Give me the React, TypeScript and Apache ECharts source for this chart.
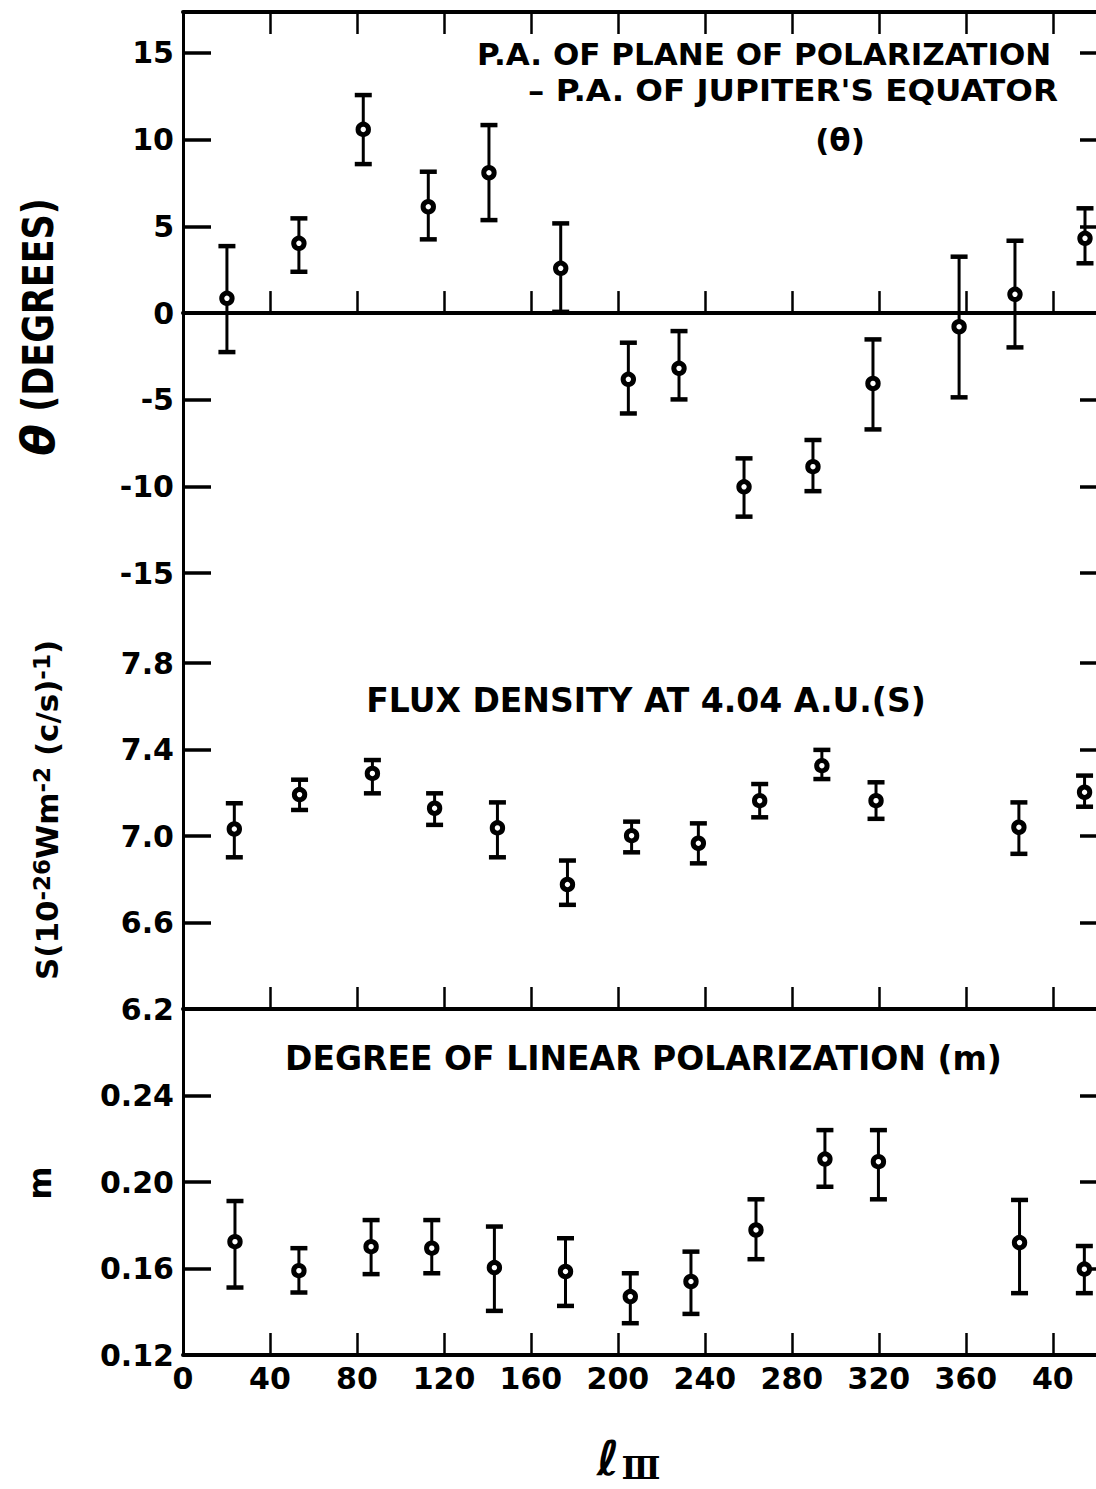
import React, { useEffect, useRef } from 'react';
import * as echarts from 'echarts';

// ---------- axis ticks / labels ----------
const X_TICKS = [40, 80, 120, 160, 200, 240, 280, 320, 360, 400];
const X_LABELS = [0, 40, 80, 120, 160, 200, 240, 280, 320, 360, 400];
const THETA_TICKS = [-15, -10, -5, 0, 5, 10, 15];
const FLUX_TICKS = [6.6, 7.0, 7.4, 7.8];
const FLUX_LABELS = [6.2, 6.6, 7.0, 7.4, 7.8];
const M_TICKS = [0.16, 0.2, 0.24];
const M_LABELS = [0.12, 0.16, 0.2, 0.24];

// ---------- theta panel (degrees) ----------
const thetaLon = [20.2, 53.3, 82.9, 112.8, 140.7, 173.7, 204.8, 228.1, 258.0, 289.7, 317.3, 356.9, 382.6, 414.8];
const thetaVal = [0.85, 4.02, 10.59, 6.13, 8.09, 2.58, -3.82, -3.19, -10.02, -8.86, -4.06, -0.79, 1.08, 4.31];
const thetaHi = [3.86, 5.46, 12.57, 8.15, 10.84, 5.17, -1.71, -1.04, -8.38, -7.32, -1.52, 3.25, 4.17, 6.04];
const thetaLo = [-2.25, 2.38, 8.59, 4.25, 5.36, 0.07, -5.79, -4.98, -11.74, -10.27, -6.71, -4.86, -1.98, 2.87];

// ---------- flux density panel ----------
const fluxLon = [23.6, 53.6, 87.1, 115.7, 144.6, 176.8, 206.3, 237.0, 265.2, 293.8, 318.7, 384.4, 414.6];
const fluxVal = [7.033, 7.192, 7.29, 7.129, 7.038, 6.776, 7.002, 6.967, 7.164, 7.326, 7.164, 7.041, 7.203];
const fluxHi = [7.152, 7.261, 7.352, 7.198, 7.156, 6.887, 7.067, 7.059, 7.241, 7.399, 7.249, 7.156, 7.28];
const fluxLo = [6.902, 7.121, 7.198, 7.052, 6.902, 6.682, 6.925, 6.874, 7.087, 7.264, 7.08, 6.918, 7.136];

// ---------- degree of linear polarization panel ----------
const mLon = [23.9, 53.3, 86.5, 114.4, 143.2, 175.9, 205.7, 233.6, 263.5, 295.2, 319.8, 384.7, 414.5];
const mVal = [0.1724, 0.159, 0.1701, 0.1694, 0.1604, 0.1586, 0.147, 0.154, 0.1778, 0.2106, 0.2094, 0.172, 0.1597];
const mHi = [0.1912, 0.1694, 0.1824, 0.1824, 0.1794, 0.174, 0.1578, 0.1678, 0.192, 0.224, 0.224, 0.1917, 0.1704];
const mLo = [0.1512, 0.1489, 0.1574, 0.1578, 0.1404, 0.1427, 0.1347, 0.139, 0.1643, 0.1978, 0.192, 0.1486, 0.1486];

const FONT = '"DejaVu Sans", sans-serif';
const INK = '#000';

const build = (lon: number[], v: number[], hi: number[], lo: number[]) =>
  lon.map((x, i) => [x, v[i], hi[i], lo[i]]);

const renderErr = (params: any, api: any) => {
  const x = api.value(0);
  const c = api.coord([x, api.value(1)]);
  const t = api.coord([x, api.value(2)]);
  const b = api.coord([x, api.value(3)]);
  const cw = 8.5;
  return {
    type: 'group',
    children: [
      { type: 'line', shape: { x1: c[0], y1: t[1], x2: c[0], y2: b[1] }, style: { stroke: INK, lineWidth: 3 } },
      { type: 'line', shape: { x1: c[0] - cw, y1: t[1], x2: c[0] + cw, y2: t[1] }, style: { stroke: INK, lineWidth: 4.5 } },
      { type: 'line', shape: { x1: c[0] - cw, y1: b[1], x2: c[0] + cw, y2: b[1] }, style: { stroke: INK, lineWidth: 4.5 } },
      { type: 'circle', shape: { cx: c[0], cy: c[1], r: 5.2 }, style: { fill: '#fff', stroke: INK, lineWidth: 5 } },
    ],
  };
};

const labelStyle = { color: INK, fontFamily: FONT, fontWeight: 'bold' as const, fontSize: 30 };

const xBase = (gridIndex: number, position: string, onZero: boolean, showLabels: boolean) => ({
  type: 'value',
  gridIndex,
  min: 0,
  max: 424,
  position,
  axisLine: { show: true, onZero, lineStyle: { color: INK, width: 4 } },
  axisTick: { show: true, inside: true, length: 22, customValues: X_TICKS, lineStyle: { color: INK, width: 2.5 } },
  axisLabel: showLabels
    ? { show: true, customValues: X_LABELS, margin: 8, ...labelStyle, formatter: (v: number) => (v === 400 ? '40' : String(v)) }
    : { show: false },
  splitLine: { show: false },
});

const yBase = (gridIndex: number, position: string, min: number, max: number, ticks: number[], labels: number[] | null, fmt: (v: number) => string) => ({
  type: 'value',
  gridIndex,
  min,
  max,
  position,
  axisLine: { show: true, onZero: false, lineStyle: { color: INK, width: 3 } },
  axisTick: { show: true, inside: true, length: position === 'left' ? 28 : 25, customValues: ticks, lineStyle: { color: INK, width: 3.5 } },
  axisLabel: labels
    ? { show: true, customValues: labels, margin: 9, ...labelStyle, formatter: fmt }
    : { show: false },
  splitLine: { show: false },
});

const option: any = {
  animation: false,
  backgroundColor: '#fff',
  grid: [
    { left: 183, width: 922, top: 12, height: 608, outerBoundsMode: 'none' },
    { left: 183, width: 922, top: 620, height: 389, outerBoundsMode: 'none' },
    { left: 183, width: 922, top: 1009, height: 346, outerBoundsMode: 'none' },
  ],
  xAxis: [
    xBase(0, 'top', false, false),
    xBase(0, 'bottom', true, false),
    xBase(1, 'bottom', false, false),
    xBase(2, 'bottom', false, true),
  ],
  yAxis: [
    yBase(0, 'left', -17.7, 17.36, THETA_TICKS, THETA_TICKS, (v) => String(v)),
    yBase(0, 'right', -17.7, 17.36, THETA_TICKS, null, (v) => String(v)),
    yBase(1, 'left', 6.2, 8.0, FLUX_TICKS, FLUX_LABELS, (v) => v.toFixed(1)),
    yBase(1, 'right', 6.2, 8.0, FLUX_TICKS, null, (v) => v.toFixed(1)),
    yBase(2, 'left', 0.12, 0.28, M_TICKS, M_LABELS, (v) => v.toFixed(2)),
    yBase(2, 'right', 0.12, 0.28, M_TICKS, null, (v) => v.toFixed(2)),
  ],
  series: [
    { type: 'custom', name: 'theta', xAxisIndex: 0, yAxisIndex: 0, clip: false, encode: { x: 0, y: [1, 2, 3] }, renderItem: renderErr, data: build(thetaLon, thetaVal, thetaHi, thetaLo) },
    { type: 'custom', name: 'flux', xAxisIndex: 2, yAxisIndex: 2, clip: false, encode: { x: 0, y: [1, 2, 3] }, renderItem: renderErr, data: build(fluxLon, fluxVal, fluxHi, fluxLo) },
    { type: 'custom', name: 'm', xAxisIndex: 3, yAxisIndex: 4, clip: false, encode: { x: 0, y: [1, 2, 3] }, renderItem: renderErr, data: build(mLon, mVal, mHi, mLo) },
  ],
  graphic: [
    { type: 'text', x: 477, y: 53.5, style: { text: 'P.A. OF PLANE OF POLARIZATION', font: `bold 31px ${FONT}`, fill: INK, align: 'left', verticalAlign: 'middle' } },
    { type: 'text', x: 1058, y: 90, scaleX: 1.05, style: { text: "\u2013 P.A. OF JUPITER'S EQUATOR", font: `bold 31px ${FONT}`, fill: INK, align: 'right', verticalAlign: 'middle' } },
    { type: 'text', x: 840, y: 140, style: { text: '(\u03b8)', font: `bold 31px ${FONT}`, fill: INK, align: 'center', verticalAlign: 'middle' } },
    { type: 'text', x: 646, y: 700, style: { text: 'FLUX DENSITY AT 4.04 A.U.(S)', font: `bold 33px ${FONT}`, fill: INK, align: 'center', verticalAlign: 'middle' } },
    { type: 'text', x: 643.5, y: 1058, style: { text: 'DEGREE OF LINEAR POLARIZATION (m)', font: `bold 33px ${FONT}`, fill: INK, align: 'center', verticalAlign: 'middle' } },
    { type: 'text', x: 38, y: 305, rotation: Math.PI / 2, scaleY: 1.2, style: { text: '(DEGREES)', font: `bold 35px ${FONT}`, fill: INK, align: 'center', verticalAlign: 'middle' } },
    { type: 'text', x: 38, y: 440, rotation: Math.PI / 2, style: { text: '\u03b8', font: `italic bold 46px ${FONT}`, fill: INK, align: 'center', verticalAlign: 'middle' } },
    {
      type: 'text', x: 46, y: 810, rotation: Math.PI / 2,
      style: {
        text: '{n|S(10}{s|-26}{n|Wm}{s|-2}{n| (c/s)}{s|-1}{n|)}',
        align: 'center', verticalAlign: 'middle', fill: INK,
        rich: {
          n: { fontSize: 31, fontFamily: FONT, fontWeight: 'bold', fill: INK, verticalAlign: 'bottom', lineHeight: 32 },
          s: { fontSize: 23, fontFamily: FONT, fontWeight: 'bold', fill: INK, verticalAlign: 'top', lineHeight: 24, padding: [0, 0, 18, 0] },
        },
      },
    },
    { type: 'text', x: 40, y: 1183, rotation: Math.PI / 2, style: { text: 'm', font: `bold 32px ${FONT}`, fill: INK, align: 'center', verticalAlign: 'middle' } },
    { type: 'text', x: 608, y: 1458, style: { text: '\u2113', font: `italic bold 48px ${FONT}`, fill: INK, align: 'center', verticalAlign: 'middle' } },
    { type: 'text', x: 641, y: 1468, style: { text: '\u2162', font: `bold 32px "DejaVu Serif", serif`, fill: INK, align: 'center', verticalAlign: 'middle' } },
  ],
};

export default function App() {
  const ref = useRef<HTMLDivElement>(null);
  useEffect(() => {
    const chart = echarts.init(ref.current as HTMLDivElement, null, { renderer: 'svg' });
    chart.setOption(option);
    return () => chart.dispose();
  }, []);
  return (
    <div style={{ position: 'absolute', left: 0, top: 0, width: 1096, height: 1489, overflow: 'hidden', background: '#fff' }}>
      <div ref={ref} style={{ width: 1120, height: 1489 }} />
    </div>
  );
}
